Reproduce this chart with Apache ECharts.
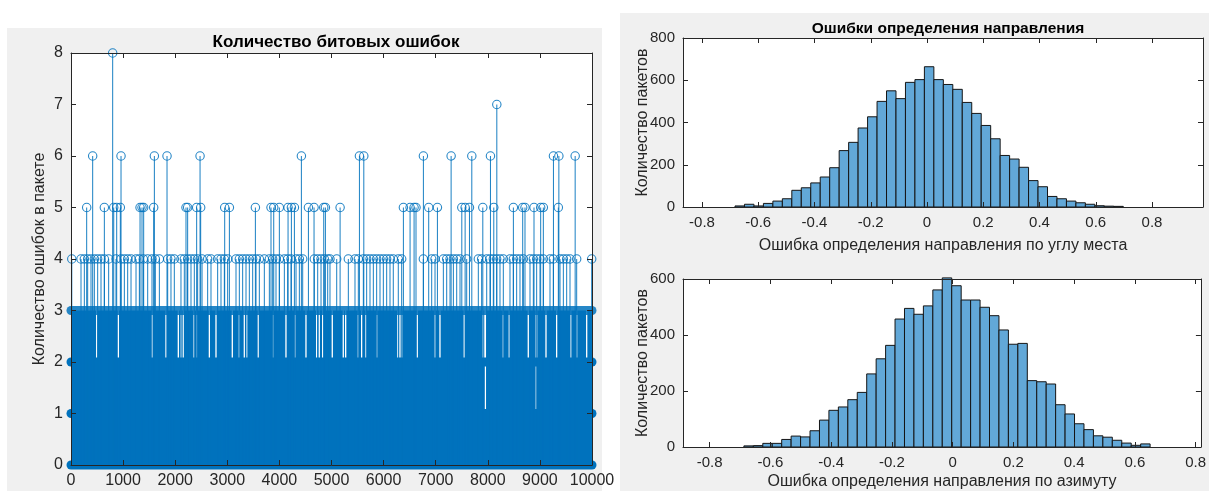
<!DOCTYPE html>
<html><head><meta charset="utf-8">
<script src="https://cdn.jsdelivr.net/npm/echarts/dist/echarts.min.js"></script>
<style>html,body{margin:0;padding:0;background:#fff;}#c{width:1209px;height:491px;}</style>
</head><body><div id="c"></div>
<script>
// ---------------- data: bit errors per packet (stem plot) ----------------
const packetCount = 10000;
const stemXTicks = [0,1000,2000,3000,4000,5000,6000,7000,8000,9000,10000];
const stemYTicks = [0,1,2,3,4,5,6,7,8];
const denseTop = 3;                       // level reached almost everywhere by the dense stems
const denseLevels = [0,1,2,3];            // rows of overlapping markers
const peak8 = [800];
const peak7 = [8173];
const peak6 = [416,960,1600,1843,2477,4422,5536,5620,6764,7296,7693,8051,9260,9364,9677];
const peak5 = [301,640,820,877,947,1325,1363,1395,1587,2207,2239,2412,2489,2950,3040,3539,3839,3891,3999,4166,4230,4288,4557,4665,4851,4883,5165,6380,6508,6585,6622,6866,7033,7501,7565,7648,7904,8115,8491,8670,8714,8887,9015,9066,9354];
const peak4 = [15,192,256,320,384,448,512,576,640,723,864,960,1024,1088,1152,1248,1312,1388,1472,1555,1619,1696,1856,1919,1983,2111,2175,2239,2303,2367,2431,2515,2623,2687,2815,2879,2943,3007,3167,3231,3295,3359,3423,3487,3551,3615,3711,3807,3871,3935,3999,4095,4159,4223,4319,4383,4447,4670,4735,4799,4862,4927,4971,5100,5323,5451,5515,5611,5675,5739,5803,5867,5931,5995,6059,6123,6186,6282,6347,6763,6923,6987,7147,7211,7275,7339,7403,7467,7595,7818,7882,7979,8042,8106,8170,8234,8298,8426,8490,8554,8618,8682,8810,8874,8938,9002,9066,9194,9258,9386,9450,9514,9578,9706,9994];
// x positions where the local maximum only reaches 2 (white slits between 2 and 3)
const slitsTo2 = [493,909,1560,1823,2060,2111,2156,2361,2412,2655,2783,3096,3230,3326,3372,3595,3883,4126,4299,4510,4715,4765,4831,5015,5226,5272,5514,5579,5662,5867,6270,6314,6347,6646,6986,7082,7548,7901,7945,8297,8412,8777,8938,9117,9322,9591,9706,9898];
// x positions where the local maximum only reaches 1
const slitsTo1 = [7955,8930];

// ---------------- data: direction error histograms ----------------
const histXTicks = [-0.8,-0.6,-0.4,-0.2,0,0.2,0.4,0.6,0.8];
const elevCounts = [5,13,5,17,28,39,79,91,114,142,186,267,306,374,427,500,550,513,590,603,664,603,580,557,495,443,386,323,244,227,188,125,96,50,39,28,20,13,6,4,3];
const elevBinStart = -0.6827, elevBinWidth = 0.03367;
const elevXRange = [-0.8676, 0.9813];
const elevYTicks = [0,200,400,600,800];
const azimCounts = [4,5,13,13,27,39,36,58,96,131,143,169,195,261,315,363,457,495,474,504,561,604,576,525,525,499,469,418,367,370,237,233,225,151,118,83,62,40,35,24,14,6,11];
const azimBinStart = -0.687, azimBinWidth = 0.0311;
const azimXRange = [-0.8875, 0.8176];
const azimYTicks = [0,200,400,600];

// ---------------- styles ----------------
const FONT = 'Liberation Sans, Arial, Helvetica, sans-serif';
const AX = '#262626';
const BLUE = '#0072BD';
const HIST = '#62a8d8';

function stemPoints() {
  const pts = [];
  [[peak4,4],[peak5,5],[peak6,6],[peak7,7],[peak8,8]].forEach(([xs,v]) => xs.forEach(x => pts.push([x, v])));
  return pts;
}
function histData(counts, start, width) {
  return counts.map((c, i) => [start + i * width, start + (i + 1) * width, c]);
}

const chart = echarts.init(document.getElementById('c'), null, {renderer: 'canvas'});

function boxAxes(grid, xr, yr, xTicks, fs, nfs, xName, yName, xGap, yGap, xInterval, yInterval) {
  const common = {
    gridIndex: grid, type: 'value', splitLine: {show: false},
    axisLine: {show: true, onZero: false, lineStyle: {color: AX, width: 1}},
    axisTick: {show: true, inside: true, length: 5, lineStyle: {color: AX}},
    z: 5
  };
  const fmt = v => String(Math.round(v * 1000) / 1000);
  const xs = [
    Object.assign({}, common, {position: 'bottom', min: xr[0], max: xr[1],
      axisTick: Object.assign({}, common.axisTick, xInterval ? {} : {customValues: xTicks}),
      axisLabel: Object.assign({color: AX, fontSize: fs, fontFamily: FONT, margin: 8, formatter: fmt}, xInterval ? {} : {customValues: xTicks}),
      interval: xInterval || undefined,
      name: xName, nameLocation: 'middle', nameGap: xGap, nameMoveOverlap: false,
      nameTextStyle: {color: AX, fontSize: nfs, fontFamily: FONT}}),
    Object.assign({}, common, {position: 'top', min: xr[0], max: xr[1],
      axisTick: Object.assign({}, common.axisTick, xInterval ? {} : {customValues: xTicks}),
      axisLabel: {show: false}, interval: xInterval || undefined})
  ];
  const ys = [
    Object.assign({}, common, {position: 'left', min: yr[0], max: yr[1], interval: yInterval,
      axisLabel: {color: AX, fontSize: fs, fontFamily: FONT, margin: 8, formatter: fmt},
      name: yName, nameLocation: 'middle', nameGap: yGap, nameMoveOverlap: false,
      nameTextStyle: {color: AX, fontSize: nfs, fontFamily: FONT}}),
    Object.assign({}, common, {position: 'right', min: yr[0], max: yr[1], interval: yInterval,
      axisLabel: {show: false}})
  ];
  return {xs, ys};
}

const a0 = boxAxes(0, [0, packetCount], [0, 8], stemXTicks, 16, 16, '', 'Количество ошибок в пакете', 0, 23, 1000, 1);
const a1 = boxAxes(1, elevXRange, [0, 800], histXTicks, 15, 16, 'Ошибка определения направления по углу места', 'Количество пакетов', 31, 32, null, 200);
const a2 = boxAxes(2, azimXRange, [0, 600], histXTicks, 15, 16, 'Ошибка определения направления по азимуту', 'Количество пакетов', 27, 32, null, 200);

const xAxes = [...a0.xs, ...a1.xs, ...a2.xs];
const yAxes = [...a0.ys, ...a1.ys, ...a2.ys];

function denseRender(params, api) {
  const children = [];
  const x0 = api.coord([0, 0])[0], x1 = api.coord([packetCount, 0])[0];
  const yOf = v => api.coord([0, v])[1];
  const slitW = 1.3;
  function runs(excl, lo, hi) {
    const xs = excl.map(s => api.coord([s, 0])[0]).sort((a, b) => a - b);
    let cur = x0;
    xs.forEach(sx => {
      if (sx - slitW / 2 > cur) children.push({type: 'rect', shape: {x: cur, y: yOf(hi), width: sx - slitW / 2 - cur, height: yOf(lo) - yOf(hi)}, style: {fill: BLUE}});
      cur = sx + slitW / 2;
    });
    children.push({type: 'rect', shape: {x: cur, y: yOf(hi), width: x1 - cur, height: yOf(lo) - yOf(hi)}, style: {fill: BLUE}});
  }
  children.push({type: 'rect', shape: {x: x0, y: yOf(1), width: x1 - x0, height: yOf(0) - yOf(1)}, style: {fill: BLUE}});
  runs(slitsTo1, 1, 2);
  runs(slitsTo2.concat(slitsTo1), 2, denseTop);
  denseLevels.forEach(L => {
    const y = yOf(L);
    children.push({type: 'line', shape: {x1: x0, y1: y, x2: x1, y2: y},
      style: {stroke: BLUE, lineWidth: 9, lineCap: 'round', opacity: L === denseTop ? 0.85 : 1}});
  });
  return {type: 'group', children};
}

function stemRender(params, api) {
  const top = api.coord([api.value(0), api.value(1)]);
  const base = api.coord([api.value(0), 0]);
  return {type: 'group', children: [
    {type: 'line', shape: {x1: top[0], y1: base[1], x2: top[0], y2: top[1]}, style: {stroke: BLUE, lineWidth: 1, opacity: 0.9}},
    {type: 'circle', shape: {cx: top[0], cy: top[1], r: 4.2}, style: {stroke: BLUE, fill: null, lineWidth: 1.1, opacity: 0.85}}
  ]};
}

function histRender(params, api) {
  const p0 = api.coord([api.value(0), api.value(2)]);
  const p1 = api.coord([api.value(1), 0]);
  return {type: 'rect', shape: {x: p0[0], y: p0[1], width: p1[0] - p0[0], height: p1[1] - p0[1]},
    style: {fill: HIST, stroke: '#151515', lineWidth: 1}};
}

chart.setOption({
  animation: false,
  backgroundColor: '#ffffff',
  graphic: {elements: [
    {type: 'rect', z: -100, silent: true, shape: {x: 7, y: 28, width: 595, height: 463}, style: {fill: '#f0f0f0'}},
    {type: 'rect', z: -100, silent: true, shape: {x: 620, y: 13, width: 589, height: 478}, style: {fill: '#f0f0f0'}}
  ]},
  title: [
    {text: 'Количество битовых ошибок', left: 331, top: 29, textAlign: 'center',
      textStyle: {fontSize: 17, fontWeight: 'bold', color: '#000', fontFamily: FONT}},
    {text: 'Ошибки определения направления', left: 943, top: 16, textAlign: 'center',
      textStyle: {fontSize: 15.5, fontWeight: 'bold', color: '#000', fontFamily: FONT}}
  ],
  grid: [
    {left: 71, top: 53, width: 521, height: 412, show: true, backgroundColor: '#fff', borderWidth: 0},
    {left: 683, top: 38, width: 520, height: 169, show: true, backgroundColor: '#fff', borderWidth: 0},
    {left: 683, top: 279, width: 520, height: 168, show: true, backgroundColor: '#fff', borderWidth: 0}
  ],
  xAxis: xAxes,
  yAxis: yAxes,
  series: [
    {type: 'custom', name: 'dense', coordinateSystem: 'cartesian2d', xAxisIndex: 0, yAxisIndex: 0,
      clip: false, data: [[0, 0]], renderItem: denseRender, silent: true},
    {type: 'custom', name: 'stems', coordinateSystem: 'cartesian2d', xAxisIndex: 0, yAxisIndex: 0,
      clip: false, data: stemPoints(), renderItem: stemRender, silent: true},
    {type: 'custom', name: 'elev', coordinateSystem: 'cartesian2d', xAxisIndex: 2, yAxisIndex: 2,
      data: histData(elevCounts, elevBinStart, elevBinWidth), encode: {x: [0, 1], y: 2}, renderItem: histRender, silent: true},
    {type: 'custom', name: 'azim', coordinateSystem: 'cartesian2d', xAxisIndex: 4, yAxisIndex: 4,
      data: histData(azimCounts, azimBinStart, azimBinWidth), encode: {x: [0, 1], y: 2}, renderItem: histRender, silent: true}
  ]
});
</script></body></html>
